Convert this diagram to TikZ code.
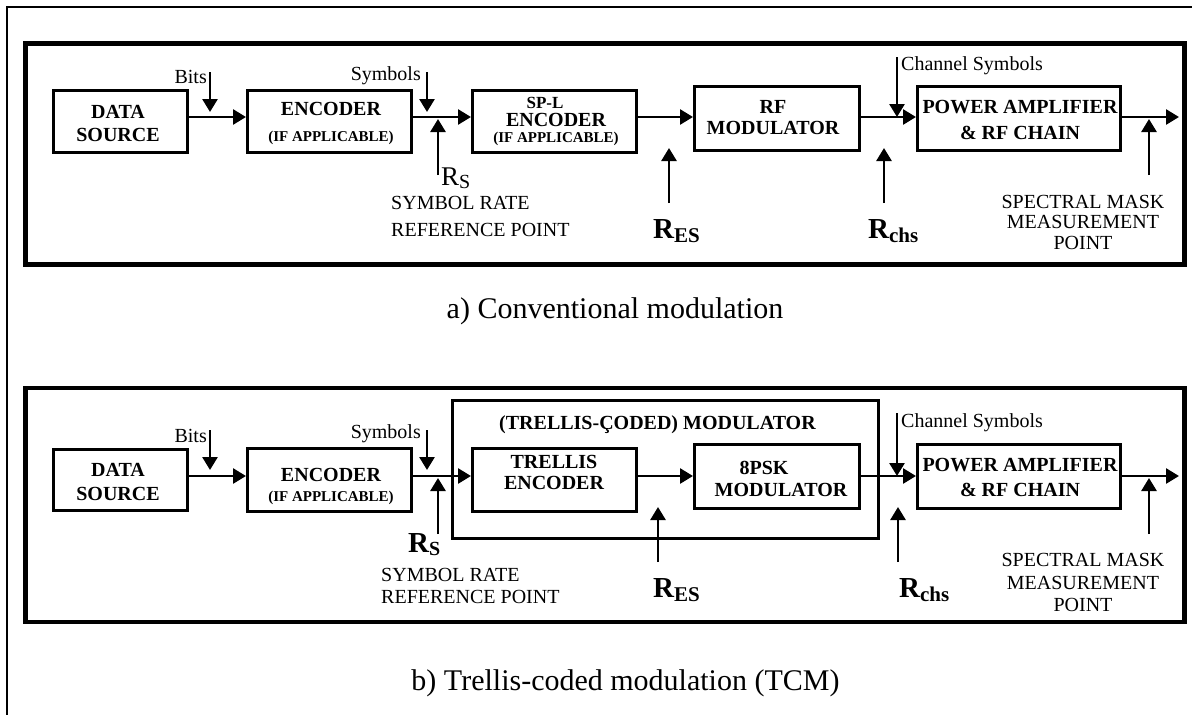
\documentclass[tikz,border=0pt]{standalone}
\usepackage{fontspec}
\setmainfont{Liberation Serif}
\usetikzlibrary{arrows.meta}
\begin{document}
\begin{tikzpicture}[x=1pt,y=-1pt,
  outerframe/.style={line width=1.5pt},
  panel/.style={draw,line width=4.3pt,inner sep=0pt},
  blk/.style={draw,line width=3pt,inner sep=0pt},
  btxt/.style={font=\bfseries\fontsize{20}{#1}\selectfont,align=center,inner sep=0pt,anchor=north},
  lbl/.style={font=\fontsize{20}{24}\selectfont,inner sep=0pt},
  mlbl/.style={font=\fontsize{20}{#1}\selectfont,inner sep=0pt},
  rlbl/.style={inner sep=0pt,anchor=base west},
  arr/.style={line width=2.7pt,-{Triangle[length=13pt,width=15pt]}},
  capt/.style={font=\fontsize{30}{36}\selectfont,inner sep=0pt,anchor=base},
]
\useasboundingbox (0,0) rectangle (1192,715);
\coordinate (ofA) at (7,715); \coordinate (ofB) at (7,7); \coordinate (ofC) at (1192,7);
\draw[outerframe] (ofA) -- (ofB) -- (ofC);

% ================= panel a =================
\node[panel,minimum width=1159pt,minimum height=221pt] (panA) at (605,154) {};

\node[blk,minimum width=134pt,minimum height=62pt] (dsA) at (120.5,121.5) {};
\node[blk,minimum width=164pt,minimum height=62pt] (encA) at (329.5,121.5) {};
\node[blk,minimum width=164pt,minimum height=62pt] (splA) at (554.5,121.5) {};
\node[blk,minimum width=165pt,minimum height=64pt] (rfA) at (777,118.5) {};
\node[blk,minimum width=203pt,minimum height=64pt] (paA) at (1019,118.5) {};

\node[btxt=23.5] (dsAt) at (118,105) {DATA\\SOURCE};
\node[btxt=26] (encAt) at (331,101.7) {ENCODER\\{\fontsize{15}{15}\selectfont (IF APPLICABLE)}};
\node[btxt=16] (splAt) at (556,97) {{\fontsize{17}{17}\selectfont SP-L\hspace*{22pt}}\\[2pt]ENCODER\\{\fontsize{15}{15}\selectfont (IF APPLICABLE)}};
\node[btxt=21] (rfAt) at (773,100) {RF\\MODULATOR};
\node[btxt=26] (paAt) at (1020,100) {POWER AMPLIFIER\\\& RF CHAIN};

\coordinate (ya) at (0,117);
\coordinate (outA) at (1179,117);
\draw[arr] (dsA.east |- ya) -- (encA.west |- ya);
\draw[arr] (encA.east |- ya) -- (splA.west |- ya);
\draw[arr] (splA.east |- ya) -- (rfA.west |- ya);
\draw[arr] (rfA.east |- ya) -- (paA.west |- ya);
\draw[arr] (paA.east |- ya) -- (outA);

\node[lbl,anchor=base east] (bitsA) at (207,83) {Bits};
\node[lbl,anchor=base east] (symA) at (421,80) {Symbols};
\node[lbl,anchor=base west] (chA) at (901,70) {Channel Symbols};
\coordinate (bitsAs) at (210,72); \coordinate (bitsAe) at (210,112);
\coordinate (symAs) at (427,72); \coordinate (symAe) at (427,112);
\coordinate (chAs) at (897,57); \coordinate (chAe) at (897,117);
\draw[arr] (bitsAs) -- (bitsAe);
\draw[arr] (symAs) -- (symAe);
\draw[arr] (chAs) -- (chAe);

\coordinate (rsAs) at (438,175); \coordinate (rsAe) at (438,119);
\coordinate (resAs) at (669,203); \coordinate (resAe) at (669,148);
\coordinate (rchAs) at (884,203); \coordinate (rchAe) at (884,148);
\coordinate (spAs) at (1149,175); \coordinate (spAe) at (1149,119);
\draw[arr] (rsAs) -- (rsAe);
\draw[arr] (resAs) -- (resAe);
\draw[arr] (rchAs) -- (rchAe);
\draw[arr] (spAs) -- (spAe);

\node[rlbl,font=\fontsize{27}{27}\selectfont] (rsA) at (441,185) {R\raisebox{-3pt}{\fontsize{20}{20}\selectfont S}};
\node[rlbl,font=\bfseries\fontsize{29}{29}\selectfont] (resA) at (653,238) {R\raisebox{-4.5pt}{\fontsize{21}{21}\selectfont ES}};
\node[rlbl,font=\bfseries\fontsize{29}{29}\selectfont] (rchA) at (868,238) {R\raisebox{-4pt}{\fontsize{21}{21}\selectfont chs}};

\node[mlbl=27,align=left,anchor=west] (srA) at (391,216.5) {SYMBOL RATE\\REFERENCE POINT};
\node[mlbl=20.5,align=center] (smA) at (1083,222.3) {SPECTRAL MASK\\MEASUREMENT\\POINT};

\node[capt] (capA) at (615,318) {a) Conventional modulation};

% ================= panel b =================
\node[panel,minimum width=1159pt,minimum height=234pt] (panB) at (605,505) {};

\node[blk,minimum width=134pt,minimum height=61pt] (dsB) at (120.5,480) {};
\node[blk,minimum width=164pt,minimum height=63pt] (encB) at (329.5,480) {};
\node[blk,minimum width=426pt,minimum height=138pt] (modB) at (665.5,469.5) {};
\node[blk,minimum width=164pt,minimum height=63pt] (trB) at (554.5,480) {};
\node[blk,minimum width=165pt,minimum height=64pt] (pskB) at (777,476.5) {};
\node[blk,minimum width=203pt,minimum height=64pt] (paB) at (1019,476.5) {};

\node[btxt=24] (dsBt) at (118,463.3) {DATA\\SOURCE};
\node[btxt=20] (encBt) at (331,468.3) {ENCODER\\{\fontsize{15}{15}\selectfont (IF APPLICABLE)}};
\node[btxt=21] (trBt) at (554,455) {TRELLIS\\ENCODER};
\node[btxt=22.7] (pskBt) at (781,460.7) {8PSK\hspace*{34pt}\\MODULATOR};
\node[btxt=25] (paBt) at (1020,458) {POWER AMPLIFIER\\\& RF CHAIN};
\node[font=\bfseries\fontsize{20}{24}\selectfont,inner sep=0pt,anchor=base] (modBt) at (657.5,429) {(TRELLIS-ÇODED) MODULATOR};

\coordinate (yb) at (0,476);
\coordinate (outB) at (1179,476);
\draw[arr] (dsB.east |- yb) -- (encB.west |- yb);
\draw[arr] (encB.east |- yb) -- (trB.west |- yb);
\draw[arr] (trB.east |- yb) -- (pskB.west |- yb);
\draw[arr] (pskB.east |- yb) -- (paB.west |- yb);
\draw[arr] (paB.east |- yb) -- (outB);

\node[lbl,anchor=base east] (bitsB) at (207,442) {Bits};
\node[lbl,anchor=base east] (symB) at (421,438) {Symbols};
\node[lbl,anchor=base west] (chB) at (901,427) {Channel Symbols};
\coordinate (bitsBs) at (210,430); \coordinate (bitsBe) at (210,470);
\coordinate (symBs) at (427,430); \coordinate (symBe) at (427,470);
\coordinate (chBs) at (897,413); \coordinate (chBe) at (897,476);
\draw[arr] (bitsBs) -- (bitsBe);
\draw[arr] (symBs) -- (symBe);
\draw[arr] (chBs) -- (chBe);

\coordinate (rsBs) at (438,534); \coordinate (rsBe) at (438,478);
\coordinate (resBs) at (658,562); \coordinate (resBe) at (658,507);
\coordinate (rchBs) at (898,562); \coordinate (rchBe) at (898,507);
\coordinate (spBs) at (1149,534); \coordinate (spBe) at (1149,478);
\draw[arr] (rsBs) -- (rsBe);
\draw[arr] (resBs) -- (resBe);
\draw[arr] (rchBs) -- (rchBe);
\draw[arr] (spBs) -- (spBe);

\node[rlbl,font=\bfseries\fontsize{29}{29}\selectfont] (rsB) at (408,552) {R\raisebox{-3pt}{\fontsize{20}{20}\selectfont S}};
\node[rlbl,font=\bfseries\fontsize{29}{29}\selectfont] (resB) at (653,597) {R\raisebox{-4.5pt}{\fontsize{21}{21}\selectfont ES}};
\node[rlbl,font=\bfseries\fontsize{29}{29}\selectfont] (rchB) at (899,597) {R\raisebox{-4pt}{\fontsize{21}{21}\selectfont chs}};

\node[mlbl=22,align=left,anchor=west] (srB) at (381,586) {SYMBOL RATE\\REFERENCE POINT};
\node[mlbl=22.5,align=center] (smB) at (1083,582.5) {SPECTRAL MASK\\MEASUREMENT\\POINT};

\node[capt] (capB) at (625.5,690) {b) Trellis-coded modulation (TCM)};
\end{tikzpicture}
\end{document}
